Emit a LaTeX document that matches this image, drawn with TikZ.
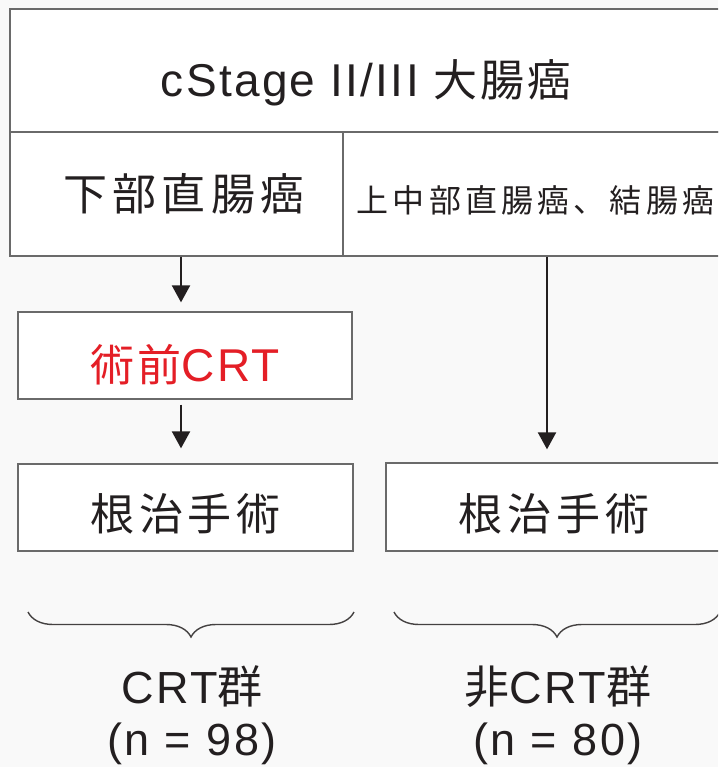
\documentclass[tikz,border=0pt]{standalone}
\usepackage{fontspec}
\setmainfont{Liberation Sans}
\newfontfamily\cjk{Noto Sans CJK JP}
\usetikzlibrary{arrows.meta,decorations.pathreplacing}
\definecolor{ink}{HTML}{231F20}
\definecolor{edge}{HTML}{6A6A6A}
\definecolor{crtred}{HTML}{E41E26}
\definecolor{bg}{HTML}{F9F9F9}
\newcommand{\drop}[2]{\raisebox{-#1}[0pt][0pt]{#2}}
\begin{document}
\begin{tikzpicture}[x=1pt,y=-1pt,
  box/.style={draw=edge, line width=1.3pt, fill=white, rectangle, inner sep=0pt, text=ink},
  arr/.style={draw=ink, line width=2.2pt, -{Triangle[length=17pt,width=18pt]}},
  brc/.style={draw=ink!85, line width=1.4pt, decorate, decoration={brace, mirror, amplitude=25pt}},
  lbl/.style={text=ink, inner sep=0pt, anchor=base}]
\path[use as bounding box, fill=bg] (0,0) rectangle (718,767);
\clip (0,0) rectangle (718,767);
% top box
\node[box, minimum width=712pt, minimum height=123pt] (top) at (366,70.5)
  {\drop{26.5pt}{\fontsize{46}{46}\selectfont\addfontfeature{LetterSpace=5}cStage II/III {\cjk\fontsize{44}{44}\selectfont\addfontfeature{LetterSpace=6}大腸癌}}};
% second row
\node[box, minimum width=333pt, minimum height=124pt] (lower) at (176.5,194)
  {\hspace*{15pt}\drop{17pt}{\fontsize{44}{44}\selectfont\cjk\addfontfeature{LetterSpace=12}下部直腸癌}};
\node[box, minimum width=379pt, minimum height=124pt] (upper) at (532.5,194)
  {\hspace*{6pt}\drop{18.5pt}{\fontsize{32}{32}\selectfont\cjk\addfontfeature{LetterSpace=13}上中部直腸癌、結腸癌}};
% CRT box
\node[box, minimum width=334pt, minimum height=87pt] (crt) at (185,355.5)
  {\drop{25.5pt}{\color{crtred}{\fontsize{44}{44}\selectfont\cjk\addfontfeature{LetterSpace=8}術前}{\fontsize{46}{46}\selectfont\addfontfeature{LetterSpace=5}CRT}}};
% surgery boxes
\node[box, minimum width=335pt, minimum height=87pt] (surgL) at (185.5,507.5)
  {\drop{22.5pt}{\fontsize{44}{44}\selectfont\cjk\addfontfeature{LetterSpace=11}根治手術}};
\node[box, minimum width=336pt, minimum height=88pt] (surgR) at (554,507)
  {\drop{23pt}{\fontsize{44}{44}\selectfont\cjk\addfontfeature{LetterSpace=11}根治手術}};
% arrows
\draw[arr] (lower.south -| 181,0) -- ([yshift=9pt]crt.north -| 181,0);
\draw[arr] ([yshift=-5pt]crt.south -| 181,0) -- ([yshift=15pt]surgL.north -| 181,0);
\draw[arr] (upper.south -| 547,0) -- ([yshift=13pt]surgR.north -| 547,0);
% braces
\coordinate (b1a) at (28,612);
\coordinate (b1b) at (354,612);
\coordinate (b2a) at (394,612);
\coordinate (b2b) at (720,612);
\draw[brc] (b1a) -- (b1b);
\draw[brc] (b2a) -- (b2b);
% group labels
\node[lbl] (g1) at (192,703) {\fontsize{45}{45}\selectfont\addfontfeature{LetterSpace=5}CRT{\cjk 群}};
\node[lbl] (g1n) at (192,755) {\fontsize{45}{45}\selectfont\addfontfeature{LetterSpace=6}(n = 98)};
\node[lbl] (g2) at (558,703) {\fontsize{45}{45}\selectfont{\cjk 非}\addfontfeature{LetterSpace=5}CRT{\cjk 群}};
\node[lbl] (g2n) at (558,755) {\fontsize{45}{45}\selectfont\addfontfeature{LetterSpace=6}(n = 80)};
\end{tikzpicture}
\end{document}
